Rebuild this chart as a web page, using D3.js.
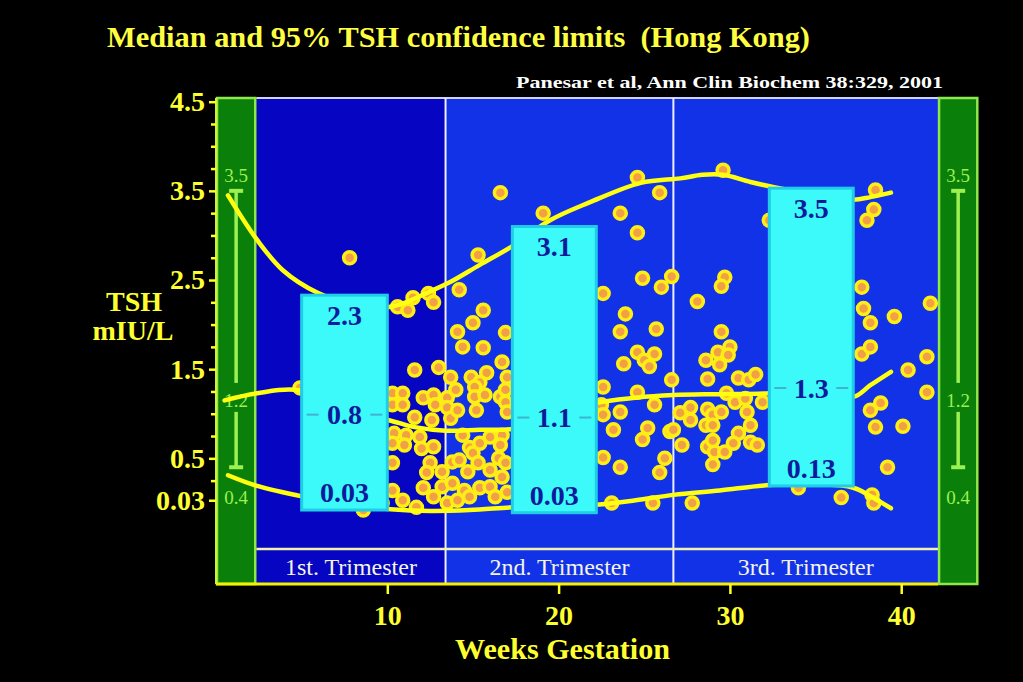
<!DOCTYPE html>
<html lang="en">
<head>
<meta charset="utf-8">
<title>Median and 95% TSH confidence limits (Hong Kong)</title>
<script src="https://cdn.jsdelivr.net/npm/d3@7"></script>
<style>
  body { margin: 0; background: #000; }
  text { font-family: "Liberation Serif", "DejaVu Serif", serif; white-space: pre; }
</style>
</head>
<body>
<script>
// ---- data ----
var dotWeeks = [
  4.9, 7.8, 10.6, 11.2, 11.5, 12.4, 12.7, 11.6, 13.0, 10.3,
  10.9, 10.3, 10.9, 12.1, 12.7, 12.8, 11.6, 12.6, 10.4, 11.1,
  10.3, 11.0, 11.9, 12.0, 12.7, 10.3, 12.5, 12.3, 13.2, 10.3,
  10.9, 12.1, 12.7, 13.2, 11.7, 8.6, 9.7, 13.5, 13.5, 13.7,
  13.5, 13.7, 13.8,
  14.1, 15.0, 16.9, 14.4, 15.6, 16.7, 14.9, 15.8, 15.4, 17.0,
  14.0, 14.1, 15.1, 15.1, 15.7, 15.2, 16.6, 16.9, 16.9, 17.0,
  14.4, 14.8, 15.4, 16.0, 16.7, 16.6, 13.8, 14.2, 15.0, 15.3,
  14.7, 16.0, 16.5, 16.9, 16.7, 14.5, 14.1, 15.4, 16.0, 16.3,
  17.0, 14.8, 16.6, 19.1, 15.3, 14.2, 15.6,
  24.6, 25.9, 23.6, 24.6, 24.9, 26.0, 26.6, 22.6, 23.9, 23.6,
  25.7, 24.6, 25.6, 25.0, 25.3, 23.8, 26.6, 22.6, 24.6, 25.6,
  22.5, 22.6, 23.6, 23.2, 25.2, 24.9, 26.5, 22.6, 23.6, 26.2,
  25.9, 23.1, 25.5,
  29.6, 38.5, 38.4, 38.0, 32.3, 29.7, 29.5, 28.1, 37.7, 37.8,
  38.2, 39.6, 41.7, 29.5, 30.0, 29.3, 29.9, 28.6, 29.4, 28.7,
  30.5, 31.1, 31.5, 37.7, 38.2, 40.4, 41.5, 41.5, 38.2, 38.8,
  38.5, 40.1, 39.2, 27.1, 27.7, 27.7, 28.7, 29.0, 29.5, 28.6,
  29.0, 31.0, 31.2, 30.5, 26.7, 27.2, 28.7, 29.1, 29.7, 30.2,
  31.2, 31.6, 29.0, 34.0, 36.5, 38.3, 38.4, 27.8, 29.8, 30.3,
  31.9, 30.9, 29.0
];
var dotTsh = [
  1.29, 2.75, 2.20, 2.16, 2.30, 2.35, 2.25, 1.49, 1.52, 1.23,
  1.23, 1.10, 1.10, 1.18, 1.21, 1.10, 0.96, 0.93, 0.78, 0.76,
  0.67, 0.65, 0.74, 0.61, 0.63, 0.45, 0.45, 0.34, 0.35, 0.14,
  0.03, 0.17, 0.07, 0.18, -0.05, -0.08, 0.0, 1.18, 1.07, 0.95,
  0.0, 1.41, 0.22,
  1.92, 2.02, 1.91, 1.75, 1.74, 1.58, 1.41, 1.46, 1.35, 1.41,
  1.27, 1.04, 1.30, 1.19, 1.21, 1.04, 1.19, 1.27, 1.13, 1.02,
  0.76, 0.62, 0.67, 0.74, 0.76, 0.65, 0.46, 0.48, 0.56, 0.45,
  0.35, 0.37, 0.50, 0.45, 0.29, 0.14, 0.03, 0.17, 0.18, 0.07,
  0.12, 0.07, 3.48, 3.25, 2.78, 2.39, 2.16,
  3.65, 3.48, 3.25, 3.03, 2.52, 2.42, 2.54, 2.35, 2.12, 1.92,
  1.95, 1.69, 1.67, 1.60, 1.53, 1.56, 1.38, 1.30, 1.24, 1.10,
  1.10, 0.99, 1.02, 0.82, 0.84, 0.71, 0.80, 0.51, 0.40, 0.50,
  0.34, 0.0, 0.0,
  3.73, 3.51, 3.29, 3.17, 3.17, 2.53, 2.43, 2.26, 2.42, 2.18,
  2.02, 2.09, 2.24, 1.92, 1.75, 1.69, 1.66, 1.60, 1.55, 1.39,
  1.40, 1.38, 1.44, 1.67, 1.75, 1.49, 1.64, 1.24, 1.04, 1.12,
  0.85, 0.86, 0.40, 1.01, 1.07, 0.93, 1.05, 0.99, 1.02, 0.87,
  0.87, 1.02, 0.87, 0.78, 0.82, 0.65, 0.63, 0.57, 0.57, 0.67,
  0.68, 0.65, 0.43, 0.17, 0.06, 0.09, 0.0, 0.0, 1.23, 1.13,
  1.13, 1.17, 0.70
];

// fitted percentile curves (weeks, TSH)
var upperWeeks = [0.7, 2.4, 3.9, 5.9, 7.8, 10.2, 12.7, 13.7, 15.4, 17.3, 19.5, 21.8, 24.8, 27.1, 28.4, 29.6, 31.2, 33.1, 35.3, 37.2, 38.2, 39.4];
var upperTsh   = [3.45, 2.95, 2.61, 2.36, 2.24, 2.20, 2.39, 2.48, 2.67, 2.88, 3.17, 3.37, 3.59, 3.64, 3.68, 3.68, 3.60, 3.52, 3.45, 3.40, 3.43, 3.48];
var medianWeeks = [0.5, 2.4, 4.9, 7.5, 10.0, 11.6, 13.4, 15.4, 17.3, 19.8, 22.2, 24.5, 26.7, 29.4, 32.3, 34.8, 37.2, 38.2, 39.4];
var medianTsh   = [1.15, 1.23, 1.26, 0.99, 0.93, 0.85, 0.81, 0.82, 0.83, 0.96, 1.12, 1.18, 1.21, 1.22, 1.23, 1.29, 1.19, 1.32, 1.47];
var lowerWeeks = [0.7, 2.4, 5.1, 7.5, 10.2, 12.5, 14.8, 17.3, 19.8, 22.2, 24.5, 26.7, 29.4, 32.3, 34.8, 37.2, 38.6, 39.4];
var lowerTsh   = [0.31, 0.19, 0.07, -0.01, -0.07, -0.09, -0.08, -0.05, -0.03, -0.02, 0.03, 0.09, 0.14, 0.20, 0.21, 0.17, 0.03, -0.06];

// trimester summary boxes
var boxStart = [5.0, 17.3, 32.3];
var boxEnd   = [10.0, 22.2, 37.2];
var boxTop    = [2.33, 3.10, 3.53];
var boxBottom = [-0.08, -0.11, 0.19];
var boxUpperText  = ['2.3', '3.1', '3.5'];
var boxMedianText = ['0.8', '1.1', '1.3'];
var boxLowerText  = ['0.03', '0.03', '0.13'];

// trimester bands
var triStart = [2.35, 13.4, 26.7];
var triEnd   = [13.4, 26.7, 42.15];
var triNames = ['1st. Trimester', '2nd. Trimester', '3rd. Trimester'];

// green reference bands at both sides
var sideStart = [0, 42.15];
var sideEnd   = [2.35, 44.5];
var sideValues = [3.5, 1.2, 0.4];
var sideLabels = ['3.5', '1.2', '0.4'];

// axes
var yTicks = [4.5, 3.5, 2.5, 1.5, 0.5, 0.03];
var yTickLabels = ['4.5', '3.5', '2.5', '1.5', '0.5', '0.03'];
var yMinorTicks = [4.25, 4.0, 3.75, 3.25, 3.0, 2.75, 2.25, 2.0, 1.75, 1.25, 1.0, 0.75, 0.25];
var xTicks = [10, 20, 30, 40];

// ---- drawing ----
var width = 1023, height = 682;
var plotTop = 98, plotBottom = 584, stripTop = 549;

var x = d3.scaleLinear().domain([0, 44.5]).range([216, 978.3]);
var y = d3.scaleLinear().domain([0, 4.5]).range([502.9, 101.7]);

var svg = d3.select('body').append('svg')
  .attr('width', width).attr('height', height);

svg.append('rect').attr('width', width).attr('height', height).attr('fill', '#000');

var triFill = ['#0505c2', '#1232e8', '#1232e8'];
var tri = d3.range(triNames.length);

// blue trimester areas
svg.selectAll('rect.tri').data(tri).enter().append('rect')
  .attr('class', 'tri')
  .attr('x', function (i) { return x(triStart[i]); })
  .attr('y', plotTop)
  .attr('width', function (i) { return x(triEnd[i]) - x(triStart[i]); })
  .attr('height', plotBottom - plotTop)
  .attr('fill', function (i) { return triFill[i]; });

// top border
svg.append('line')
  .attr('x1', x(triStart[0])).attr('x2', x(triEnd[2]))
  .attr('y1', plotTop).attr('y2', plotTop)
  .attr('stroke', '#d0d4f4').attr('stroke-width', 2);

// trimester dividers
svg.selectAll('line.div').data(triEnd.slice(0, 2)).enter().append('line')
  .attr('x1', function (d) { return x(d); }).attr('x2', function (d) { return x(d); })
  .attr('y1', plotTop).attr('y2', plotBottom)
  .attr('stroke', '#eeeeff').attr('stroke-width', 2);

// trimester label strip
svg.append('line')
  .attr('x1', x(triStart[0])).attr('x2', x(triEnd[2]))
  .attr('y1', stripTop).attr('y2', stripTop)
  .attr('stroke', '#f2f2b0').attr('stroke-width', 2.5);

svg.selectAll('text.tri').data(tri).enter().append('text')
  .attr('class', 'tri')
  .attr('x', function (i) { return (x(triStart[i]) + x(triEnd[i])) / 2; })
  .attr('y', 575)
  .attr('text-anchor', 'middle')
  .attr('font-size', 24)
  .attr('fill', '#f4f4e4')
  .text(function (i) { return triNames[i]; });

// green side bands with reference range bars
var sides = d3.range(sideStart.length);
svg.selectAll('rect.side').data(sides).enter().append('rect')
  .attr('class', 'side')
  .attr('x', function (i) { return x(sideStart[i]) + 1; })
  .attr('y', plotTop)
  .attr('width', function (i) { return x(sideEnd[i]) - x(sideStart[i]) - 2; })
  .attr('height', plotBottom - plotTop)
  .attr('fill', '#0a800a')
  .attr('stroke', '#8ee84a')
  .attr('stroke-width', 2.5);

var sideG = svg.selectAll('g.sidebar').data(sides).enter().append('g')
  .attr('class', 'sidebar')
  .attr('transform', function (i) { return 'translate(' + ((x(sideStart[i]) + x(sideEnd[i])) / 2) + ',0)'; });

var barColor = '#9cf050';
sideG.append('line')
  .attr('x1', 0).attr('x2', 0)
  .attr('y1', y(sideValues[0])).attr('y2', y(sideValues[1]) - 13)
  .attr('stroke', barColor).attr('stroke-width', 3.5);
sideG.append('line')
  .attr('x1', 0).attr('x2', 0)
  .attr('y1', y(sideValues[1]) + 16).attr('y2', y(sideValues[2]))
  .attr('stroke', barColor).attr('stroke-width', 3.5);
[sideValues[0], sideValues[2]].forEach(function (v) {
  sideG.append('line')
    .attr('x1', -7).attr('x2', 7)
    .attr('y1', y(v)).attr('y2', y(v))
    .attr('stroke', barColor).attr('stroke-width', 4);
});
var sideLabelOffset = [-16, 4, 30];
sideLabels.forEach(function (lab, k) {
  sideG.append('text')
    .attr('x', 0)
    .attr('y', y(sideValues[k]) + sideLabelOffset[k])
    .attr('dy', '0.35em')
    .attr('text-anchor', 'middle')
    .attr('font-size', 19)
    .attr('fill', barColor)
    .text(lab);
});

// bottom frame line
svg.append('line')
  .attr('x1', x(0)).attr('x2', x(triEnd[2]))
  .attr('y1', plotBottom).attr('y2', plotBottom)
  .attr('stroke', '#f4f000').attr('stroke-width', 3);

// curves
var line = d3.line()
  .x(function (d) { return x(d[0]); })
  .y(function (d) { return y(d[1]); })
  .curve(d3.curveCatmullRom.alpha(0.5));

// dots
svg.append('g').selectAll('circle').data(d3.range(dotWeeks.length)).enter().append('circle')
  .attr('cx', function (i) { return x(dotWeeks[i]); })
  .attr('cy', function (i) { return y(dotTsh[i]); })
  .attr('r', 6)
  .attr('fill', '#f2a048')
  .attr('stroke', '#ffee14')
  .attr('stroke-width', 3.5);

[[upperWeeks, upperTsh], [medianWeeks, medianTsh], [lowerWeeks, lowerTsh]].forEach(function (c) {
  svg.append('path')
    .datum(d3.zip(c[0], c[1]))
    .attr('d', line)
    .attr('fill', 'none')
    .attr('stroke', '#ffff10')
    .attr('stroke-width', 4.5)
    .attr('stroke-linecap', 'round');
});

// summary boxes
var medianAt = d3.scaleLinear().domain(medianWeeks).range(medianTsh);
var boxes = d3.range(boxStart.length);
var boxG = svg.selectAll('g.box').data(boxes).enter().append('g').attr('class', 'box');

boxG.append('rect')
  .attr('x', function (i) { return x(boxStart[i]); })
  .attr('y', function (i) { return y(boxTop[i]); })
  .attr('width', function (i) { return x(boxEnd[i]) - x(boxStart[i]); })
  .attr('height', function (i) { return y(boxBottom[i]) - y(boxTop[i]); })
  .attr('fill', '#3cfafa')
  .attr('stroke', '#20cce6')
  .attr('stroke-width', 3);

function midY(i) { return y(medianAt((boxStart[i] + boxEnd[i]) / 2)); }

boxG.append('line')
  .attr('x1', function (i) { return x(boxStart[i]) + 5; })
  .attr('x2', function (i) { return x(boxStart[i]) + 17; })
  .attr('y1', midY).attr('y2', midY)
  .attr('stroke', '#3cb4d2').attr('stroke-width', 2);
boxG.append('line')
  .attr('x1', function (i) { return x(boxEnd[i]) - 17; })
  .attr('x2', function (i) { return x(boxEnd[i]) - 5; })
  .attr('y1', midY).attr('y2', midY)
  .attr('stroke', '#3cb4d2').attr('stroke-width', 2);

function boxText(sel, yFn, textFn) {
  sel.append('text')
    .attr('x', function (i) { return (x(boxStart[i]) + x(boxEnd[i])) / 2; })
    .attr('y', yFn)
    .attr('dy', '0.35em')
    .attr('text-anchor', 'middle')
    .attr('font-size', 28)
    .attr('font-weight', 'bold')
    .attr('fill', '#0c1a9c')
    .text(textFn);
}
boxText(boxG, function (i) { return y(boxTop[i]) + 20; }, function (i) { return boxUpperText[i]; });
boxText(boxG, midY, function (i) { return boxMedianText[i]; });
boxText(boxG, function (i) { return y(boxBottom[i]) - 18; }, function (i) { return boxLowerText[i]; });

// y axis
svg.append('line')
  .attr('x1', x(0)).attr('x2', x(0))
  .attr('y1', plotTop).attr('y2', plotBottom)
  .attr('stroke', '#d8ee30').attr('stroke-width', 2);

var yAxis = svg.append('g')
  .attr('transform', 'translate(' + x(0) + ',0)')
  .call(d3.axisLeft(y).tickValues(yTicks)
    .tickFormat(function (d, i) { return yTickLabels[i]; })
    .tickSize(7).tickPadding(4));
var yMinor = svg.append('g')
  .attr('transform', 'translate(' + x(0) + ',0)')
  .call(d3.axisLeft(y).tickValues(yMinorTicks).tickFormat('').tickSize(5));

// x axis
var xAxis = svg.append('g')
  .attr('transform', 'translate(0,' + plotBottom + ')')
  .call(d3.axisBottom(x).tickValues(xTicks).tickSize(10).tickPadding(11));

[yAxis, yMinor, xAxis].forEach(function (g) {
  g.select('.domain').remove();
  g.selectAll('.tick line').attr('stroke', '#ffff20').attr('stroke-width', 2.5);
  g.selectAll('.tick text')
    .attr('fill', '#ffff30')
    .attr('font-family', '"Liberation Serif", serif')
    .attr('font-weight', 'bold')
    .attr('font-size', 28);
});

// titles and axis names
svg.append('text')
  .attr('x', 107).attr('y', 47)
  .attr('font-size', 29).attr('font-weight', 'bold')
  .attr('fill', '#ffff40')
  .attr('textLength', 703).attr('lengthAdjust', 'spacingAndGlyphs')
  .text('Median and 95% TSH confidence limits\u00a0\u00a0(Hong Kong)');

svg.append('text')
  .attr('x', 516).attr('y', 88)
  .attr('font-size', 17).attr('font-weight', 'bold')
  .attr('fill', '#ffffff')
  .attr('textLength', 427).attr('lengthAdjust', 'spacingAndGlyphs')
  .text('Panesar et al, Ann Clin Biochem 38:329, 2001');

svg.append('text')
  .attr('x', 134).attr('y', 311)
  .attr('text-anchor', 'middle')
  .attr('font-size', 28).attr('font-weight', 'bold')
  .attr('fill', '#ffff30')
  .text('TSH');
svg.append('text')
  .attr('x', 133).attr('y', 340)
  .attr('text-anchor', 'middle')
  .attr('font-size', 28).attr('font-weight', 'bold')
  .attr('fill', '#ffff30')
  .text('mIU/L');

svg.append('text')
  .attr('x', 455).attr('y', 659)
  .attr('font-size', 29).attr('font-weight', 'bold')
  .attr('fill', '#ffff30')
  .attr('textLength', 215).attr('lengthAdjust', 'spacingAndGlyphs')
  .text('Weeks Gestation');
</script>
</body>
</html>
